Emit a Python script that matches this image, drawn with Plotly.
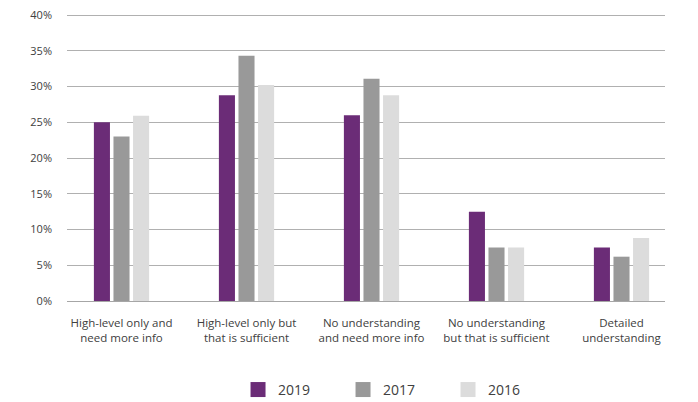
import plotly.graph_objects as go

categories = [
    "High-level only and<br>need more info",
    "High-level only but<br>that is sufficient",
    "No understanding<br>and need more info",
    "No understanding<br>but that is sufficient",
    "Detailed<br>understanding",
]
series_names = ["2019", "2017", "2016"]
values_2019 = [25.0, 28.8, 26.0, 12.5, 7.5]
values_2017 = [23.0, 34.3, 31.1, 7.5, 6.2]
values_2016 = [25.9, 30.2, 28.8, 7.5, 8.8]
colors = ["#6b2c77", "#999999", "#dcdcdc"]
y_ticks = [0, 5, 10, 15, 20, 25, 30, 35, 40]
y_tick_labels = [f"{v}%" for v in y_ticks]

FONT = "Open Sans, Noto Sans, sans-serif"

fig = go.Figure()
for name, vals, col in zip(series_names, [values_2019, values_2017, values_2016], colors):
    fig.add_trace(go.Bar(x=categories, y=vals, name=name, marker_color=col,
                         marker_line_width=0, showlegend=False, hoverinfo="y"))
for name, col in zip(series_names, colors):
    fig.add_trace(go.Scatter(x=[None], y=[None], mode="markers", name=name,
                             marker=dict(symbol="square", size=15, color=col)))

fig.update_layout(
    width=698, height=402,
    margin=dict(l=67, r=33, t=14, b=101),
    paper_bgcolor="white", plot_bgcolor="white",
    barmode="group", bargap=0.53, bargroupgap=0.18,
    font=dict(family=FONT, size=12, color="#404040"),
    showlegend=True,
    legend=dict(orientation="h", xref="paper", yref="container",
                xanchor="left", x=0.286, yanchor="middle", y=0.03,
                font=dict(size=14, color="#404040"),
                entrywidth=60, entrywidthmode="pixels", itemsizing="trace"),
    xaxis=dict(type="category", range=[-0.436, 4.348], showgrid=False,
               showline=True, linecolor="#a6a6a6", linewidth=1, automargin=False,
               ticks="", ticklabelstandoff=11, tickfont=dict(size=11.5, color="#404040")),
    yaxis=dict(range=[0, 40.15], tickvals=y_ticks, ticktext=y_tick_labels,
               showgrid=True, gridcolor="#b0b0b0", gridwidth=1, zeroline=False,
               automargin=False,
               ticks="", ticklabelstandoff=14, tickfont=dict(size=11, color="#404040")),
)

fig.write_html("out.html", config={"displayModeBar": False},
               post_script="document.body.style.margin='0';document.body.style.overflow='hidden';")
